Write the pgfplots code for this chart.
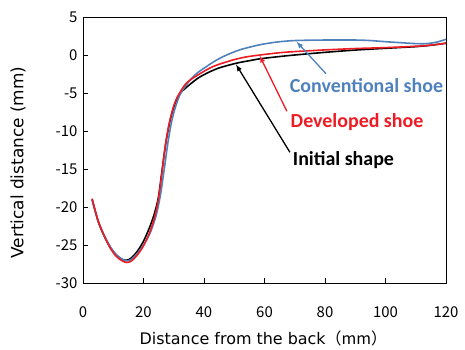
\documentclass[border=0pt]{standalone}
\usepackage{pgfplots}
\pgfplotsset{compat=1.18}
\usepackage{fontspec}
\setmainfont{Noto Sans CJK JP}
\newfontfamily\annfont{Carlito}
\newfontfamily\labfont{DejaVu Sans}
\newfontfamily\cjk{Noto Sans CJK JP}
\definecolor{cblue}{RGB}{79,129,189}
\definecolor{cred}{RGB}{237,28,36}
\begin{document}
\begin{tikzpicture}
\path[use as bounding box] (-83bp,-67bp) rectangle (382bp,283bp);
\begin{axis}[
  at={(0,0)}, anchor=south west,
  scale only axis, width=363bp, height=266bp,
  xmin=0, xmax=120, ymin=-30, ymax=5,
  xtick={0,20,...,120}, ytick={-30,-25,...,5},
  tick align=inside, tick pos=left,
  major tick length=5bp,
  axis line style={line width=0.9pt},
  tick style={line width=0.8pt, black},
  ticklabel style={font=\fontsize{15}{17}\selectfont},
  xticklabel style={yshift=-20bp},
  yticklabel style={xshift=-2bp},
  /pgf/number format/assume math mode=true,
  xlabel={Distance from the back\cjk{（}mm\cjk{）}},
  ylabel={Vertical distance (mm)},
  xlabel style={font=\labfont\fontsize{16}{18}\selectfont, at={(axis description cs:0.497,-0.207)}, anchor=center},
  ylabel style={font=\labfont\fontsize{17}{19}\selectfont, at={(axis description cs:-0.179,0.453)}, anchor=center},
  clip=false,
]
\addplot[black, line width=1.6pt, smooth] coordinates {
(3,-19.0)(5,-21.9)(7,-23.8)(9,-25.3)(11,-26.3)(13,-26.9)(14.5,-27.0)(16,-26.7)(18,-25.8)(20,-24.5)(22,-22.7)(23.5,-21.0)(24.9,-18.8)(26.1,-15.3)(27.4,-11.5)(28.8,-8.6)(30.3,-6.5)(32,-5.1)(33.5,-4.5)(35.4,-3.85)(38,-3.05)(40.9,-2.4)(45,-1.7)(50.8,-1.07)(55,-0.75)(58.5,-0.5)(65,-0.2)(70,0.0)(80,0.35)(90,0.65)(100,0.88)(110,1.1)(115,1.28)(120,1.55)
};
\addplot[cblue, line width=1.6pt, smooth] coordinates {
(3,-19.0)(5,-21.8)(7,-23.7)(9,-25.2)(11,-26.3)(13,-26.9)(14.5,-27.1)(16,-26.9)(18,-26.1)(20,-25.0)(22,-23.6)(23.5,-22.0)(24.5,-20.6)(25.7,-18.2)(27.0,-14.6)(28.2,-11.2)(29.5,-8.4)(31,-6.3)(32.5,-4.9)(35.4,-3.3)(38,-2.3)(40.9,-1.5)(44,-0.7)(47.5,0.0)(52,0.7)(58.5,1.35)(64,1.7)(70,1.9)(80,1.97)(90,1.97)(95,1.9)(100,1.75)(105,1.62)(110,1.5)(113.6,1.5)(117,1.7)(120,2.07)
};
\addplot[cred, line width=1.6pt, smooth] coordinates {
(3,-18.9)(5,-21.8)(7,-23.8)(9,-25.4)(11,-26.5)(13,-27.1)(14.5,-27.3)(16,-27.1)(18,-26.3)(20,-25.1)(22,-23.4)(23.5,-21.6)(24.8,-19.3)(26.0,-15.8)(27.2,-12.0)(28.5,-9.0)(30,-6.7)(31.5,-5.3)(34.2,-3.7)(38.1,-2.6)(43.1,-1.5)(49.7,-0.64)(54,-0.25)(58.5,0.0)(65,0.3)(70,0.45)(80,0.67)(90,0.85)(100,0.97)(110,1.15)(115,1.3)(120,1.55)
};
\draw[cblue, line width=1.3pt, -latex] (axis cs:80.3,-2.45) -- (axis cs:70.6,1.75);
\draw[cred, line width=1.3pt, -latex] (axis cs:67.4,-7.4) -- (axis cs:58.4,-0.1);
\draw[black, line width=1.3pt, -latex] (axis cs:68.4,-12.8) -- (axis cs:50.6,-1.25);
\node[cblue, font=\annfont\bfseries\fontsize{20}{22}\selectfont] at (axis cs:93.7,-4.05) {Conventional shoe};
\node[cred, font=\annfont\bfseries\fontsize{20}{22}\selectfont] at (axis cs:90.6,-8.8) {Developed shoe};
\node[black, font=\annfont\bfseries\fontsize{20}{22}\selectfont] at (axis cs:86.1,-13.8) {Initial shape};
\end{axis}
\end{tikzpicture}
\end{document}
